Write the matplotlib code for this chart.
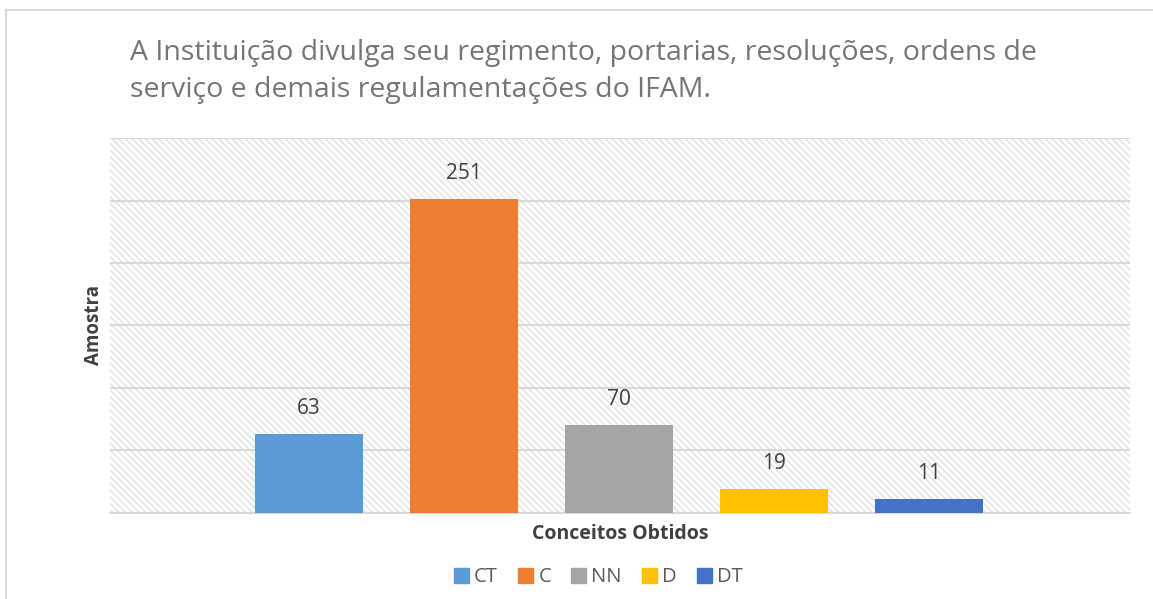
import matplotlib
matplotlib.use("Agg")
import matplotlib.pyplot as plt
from matplotlib.patches import Rectangle
from matplotlib.lines import Line2D

# ── Data ─────────────────────────────────────────────────────────────────────
series = ["CT", "C", "NN", "D", "DT"]
values = [63, 251, 70, 19, 11]
colours = ["#5B9BD5", "#ED7D31", "#A5A5A5", "#FFC000", "#4472C4"]
y_ticks = [0, 50, 100, 150, 200, 250, 300]

title = ("A Instituição divulga seu regimento, portarias, resoluções, ordens de\n"
         "serviço e demais regulamentações do IFAM.")

plt.rcParams["font.family"] = ["Open Sans", "DejaVu Sans"]
plt.rcParams["hatch.color"] = "#e3e3e3"
plt.rcParams["hatch.linewidth"] = 1.1

fig = plt.figure(figsize=(11.53, 5.99), dpi=100)
ax = fig.add_axes([0.0954, 0.1436, 0.8846, 0.626])

# hatched plot background
ax.add_patch(Rectangle((0, 0), 1, 1, transform=ax.transAxes, facecolor="white",
                       edgecolor="#e3e3e3", hatch="\\\\\\\\\\", linewidth=0, zorder=0))

x = range(len(series))
bars = ax.bar(x, values, width=0.697, color=colours, zorder=3)
for bar, val in zip(bars, values):
    ax.text(bar.get_x() + bar.get_width() / 2, val + 20.5, str(val),
            ha="center", va="center", fontsize=15, color="#404040")

ax.set_xlim(-1.284, 5.297)
ax.set_ylim(0, 300)
ax.set_yticks(y_ticks)
ax.set_xticks([])
ax.tick_params(axis="y", length=0, labelleft=False)
ax.grid(axis="y", color="#d9d9d9", linewidth=1.5, zorder=1)
for s in ["top", "right", "left"]:
    ax.spines[s].set_visible(False)
ax.spines["bottom"].set_color("#d9d9d9")
ax.spines["bottom"].set_linewidth(1.5)
ax.set_axisbelow(True)

ax.set_ylabel("Amostra", fontsize=13.5, fontweight="bold", color="#404040", labelpad=4)
ax.set_xlabel("Conceitos Obtidos", fontsize=14, fontweight="bold", color="#404040", labelpad=8)

fig.text(0.1127, 0.935, title, ha="left", va="top", fontsize=20.5,
         color="#757575", linespacing=1.45)

handles = [Rectangle((0, 0), 1, 1, color=c) for c in colours]
fig.legend(handles, series, loc="center", bbox_to_anchor=(0.519, 0.036), ncol=5,
           frameon=False, fontsize=14.5, handlelength=0.75, handleheight=0.75,
           handletextpad=0.25, columnspacing=1.0, labelcolor="#595959")

# outer chart frame
fig.add_artist(Line2D([0.0052, 1.0], [0.983, 0.983], color="#d9d9d9", lw=1.5))
fig.add_artist(Line2D([0.0052, 0.0052], [0.0, 0.983], color="#d9d9d9", lw=1.5))

fig.savefig("out.png", dpi=100)
